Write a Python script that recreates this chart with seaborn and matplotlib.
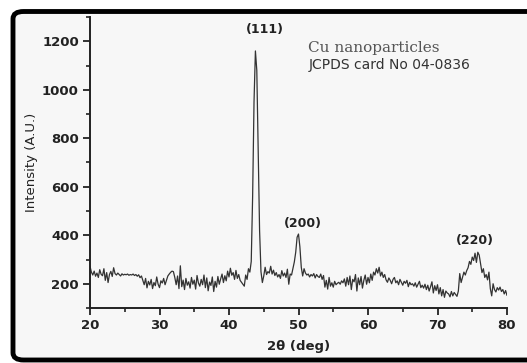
import numpy as np
import pandas as pd
import matplotlib
matplotlib.use("Agg")
import matplotlib.pyplot as plt
from matplotlib.patches import FancyBboxPatch
from matplotlib.ticker import MultipleLocator
import seaborn as sns

# 2-theta grid, 0.2 deg steps from 20 to 80
two_theta = np.round(np.arange(20.0, 80.01, 0.2), 1)

# intensity, 10 values per 2 degrees
intensity = [
    272, 248, 236, 252, 231, 244, 226, 258, 239, 233,
    262, 214, 246, 205, 238, 251, 230, 266, 242, 236,
    244, 238, 232, 241, 236, 239, 237, 240, 235, 238,
    236, 240, 234, 238, 231, 237, 225, 232, 214, 196,
    222, 183, 210, 195, 218, 180, 205, 192, 228, 198,
    184, 212, 203, 222, 196, 214, 232, 240, 247, 252,
    250, 226, 196, 232, 180, 274, 188, 215, 176, 222,
    194, 208, 182, 226, 198, 215, 178, 234, 203, 190,
    218, 196, 236, 184, 224, 171, 207, 193, 228, 168,
    210, 186, 230, 198, 220, 240, 205, 233, 212, 252,
    228, 264, 235, 246, 218, 255, 222, 238, 214, 206,
    198, 190, 236, 218, 262, 248, 292, 560, 950, 1160,
    1080, 760, 420, 250, 205, 232, 268, 238, 250, 244,
    272, 240, 256, 234, 246, 228, 238, 222, 254, 232,
    244, 226, 260, 198, 240, 236, 262, 290, 330, 392,
    405, 352, 268, 232, 262, 244, 236, 240, 228, 238,
    232, 242, 224, 238, 230, 226, 240, 218, 234, 186,
    214, 178, 226, 190, 204, 186, 210, 196, 202, 206,
    198, 212, 204, 220, 190, 226, 196, 232, 176, 218,
    208, 238, 170, 224, 196, 230, 182, 214, 236, 198,
    226, 204, 240, 214, 248, 236, 262, 244, 268, 232,
    248, 226, 238, 216, 206, 224, 214, 200, 218, 226,
    204, 212, 196, 218, 206, 194, 210, 202, 214, 188,
    206, 196, 200, 190, 204, 186, 198, 210, 184, 194,
    182, 198, 176, 194, 170, 188, 208, 162, 192, 172,
    196, 158, 184, 150, 176, 144, 170, 162, 158, 146,
    168, 150, 164, 156, 148, 170, 242, 205, 226, 248,
    236, 254, 266, 292, 280, 310, 296, 326, 288, 330,
    318, 282, 246, 262, 226, 238, 216, 248, 180, 150,
    200, 176, 166, 184, 174, 186, 168, 176, 158, 172,
    152,
]

peak_labels = ["(111)", "(200)", "(220)"]
peak_label_x = [45.2, 50.6, 75.4]
peak_label_y = [1250, 448, 378]

df = pd.DataFrame({"two_theta": two_theta, "intensity": intensity})

sns.set_theme(style="ticks")
plt.rcParams["font.family"] = ["DejaVu Sans"]

bg = "#f7f7f7"
ink = "#222222"
fig = plt.figure(figsize=(5.27, 3.63), dpi=100, facecolor="white")

# black rounded frame round the plot (right side runs off the picture)
frame = FancyBboxPatch((13 / 527, 3 / 363), 560 / 527, 348.5 / 363,
                       boxstyle="round,pad=0,rounding_size=0.02",
                       transform=fig.transFigure, facecolor=bg,
                       edgecolor="black", linewidth=3.5, zorder=0)
fig.patches.append(frame)

ax = fig.add_axes([90 / 527, 1 - 308 / 363, 417 / 527, 291 / 363])
ax.set_facecolor("none")
ax.set_zorder(2)

sns.lineplot(data=df, x="two_theta", y="intensity", ax=ax,
             color="#333333", linewidth=0.9)

ax.set_xlim(20, 80)
ax.set_ylim(100, 1300)
ax.xaxis.set_major_locator(MultipleLocator(10))
ax.xaxis.set_minor_locator(MultipleLocator(5))
ax.yaxis.set_major_locator(MultipleLocator(200))
ax.yaxis.set_minor_locator(MultipleLocator(100))
ax.set_yticks([200, 400, 600, 800, 1000, 1200])

sns.despine(ax=ax)
for side in ["left", "bottom"]:
    ax.spines[side].set_linewidth(1.4)
    ax.spines[side].set_color(ink)
ax.tick_params(which="major", length=5, width=1.3, color=ink,
               labelsize=9.5, pad=3)
ax.tick_params(which="minor", length=3, width=1.2, color=ink)
for lbl in ax.get_xticklabels() + ax.get_yticklabels():
    lbl.set_fontweight("bold")
    lbl.set_color(ink)

ax.set_xlabel("2\u03b8 (deg)", fontsize=9.5, fontweight="bold",
              color=ink, labelpad=6)
ax.set_ylabel("Intensity (A.U.)", fontsize=9.5, color=ink,
              labelpad=3)

for txt, px, py in zip(peak_labels, peak_label_x, peak_label_y):
    ax.text(px, py, txt, ha="center", va="center", fontsize=9,
            fontweight="bold", color=ink)

ax.text(51.4, 1172, "Cu nanoparticles", ha="left", va="center",
        fontsize=11, family=["DejaVu Serif"], color="#555555")
ax.text(51.4, 1102, "JCPDS card No 04-0836", ha="left", va="center",
        fontsize=10, color="#333333")

fig.savefig("out.png", dpi=100, facecolor="white")
